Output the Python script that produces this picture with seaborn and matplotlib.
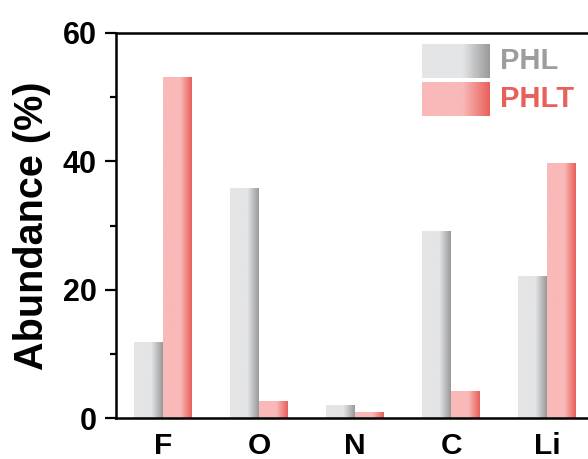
import numpy as np
import pandas as pd
import matplotlib
matplotlib.use("Agg")
import matplotlib.pyplot as plt
import seaborn as sns
from matplotlib.colors import to_rgb

elements = ["F", "O", "N", "C", "Li"]
phl = [11.8, 35.7, 2.0, 29.0, 22.0]
phlt = [53.1, 2.6, 0.8, 4.2, 39.7]
series = ["PHL", "PHLT"]
y_ticks = [0, 20, 40, 60]

light = {"PHL": "#e4e5e7", "PHLT": "#f9b9b8"}
dark = {"PHL": "#999999", "PHLT": "#e8605a"}
text_col = {"PHL": "#9d9d9d", "PHLT": "#e8605a"}

df = pd.DataFrame({
    "Element": elements * 2,
    "Abundance": phl + phlt,
    "Sample": ["PHL"] * len(elements) + ["PHLT"] * len(elements),
})

sns.set_style("white")
plt.rcParams["font.family"] = ["Liberation Sans", "DejaVu Sans"]
plt.rcParams["font.weight"] = "bold"
for key in ["text.color", "axes.labelcolor", "xtick.color", "ytick.color"]:
    plt.rcParams[key] = "black"


def gradient(name, n=120):
    """Horizontal shading: flat light tone, then fading into the dark tone."""
    t = np.linspace(0, 1, n)
    lo = np.array(to_rgb(light[name]))
    hi = np.array(to_rgb(dark[name]))
    w = np.clip((t - 0.6) / 0.4, 0, 1)[:, None]
    return (lo * (1 - w) + hi * w)[None, :, :]


fig = plt.figure(figsize=(5.88, 4.59), dpi=100)
ax = fig.add_axes([116 / 588, 41 / 459, 504 / 588, 385 / 459])

sns.barplot(data=df, x="Element", y="Abundance", hue="Sample",
            hue_order=series, order=elements, width=0.6, gap=0,
            legend=False, ax=ax, saturation=1)

# Replace the flat bar faces with shaded images
for name, cont in zip(series, ax.containers):
    img = gradient(name)
    for bar in cont:
        x0 = bar.get_x()
        w = bar.get_width()
        h = bar.get_height()
        bar.set_visible(False)
        ax.imshow(img, extent=[x0, x0 + w, 0, h], aspect="auto",
                  interpolation="bilinear", zorder=2)

ax.set_xlim(-0.49, 4.76)
ax.set_ylim(0, 60)
ax.set_aspect("auto")
ax.set_yticks(y_ticks)
ax.set_yticks([10, 30, 50], minor=True)
ax.set_xlabel("")
ax.set_ylabel("Abundance (%)", fontsize=28.5, fontweight="bold", labelpad=8)

for s in ["left", "bottom", "top"]:
    ax.spines[s].set_linewidth(1.8)
    ax.spines[s].set_color("black")
ax.spines["right"].set_visible(False)

ax.tick_params(axis="y", which="major", direction="out", length=8, width=1.6,
               labelsize=22, pad=6, left=True)
ax.tick_params(axis="y", which="minor", direction="out", length=4.5, width=1.6,
               left=True)
ax.tick_params(axis="x", length=0, labelsize=21.5, pad=10)
for lab in ax.get_xticklabels() + ax.get_yticklabels():
    lab.set_fontweight("bold")

# Legend with shaded swatches
for name, top in zip(series, [44, 82]):
    sw = fig.add_axes([422 / 588, (459 - top - 34) / 459, 68 / 588, 34 / 459])
    sw.imshow(gradient(name), aspect="auto", interpolation="bilinear",
              extent=[0, 1, 0, 1])
    sw.set_axis_off()
    fig.text(500 / 588, (459 - top - 17) / 459, name, color=text_col[name],
             fontsize=21, fontweight="bold", va="center", ha="left")

fig.savefig("out.png", dpi=100)
